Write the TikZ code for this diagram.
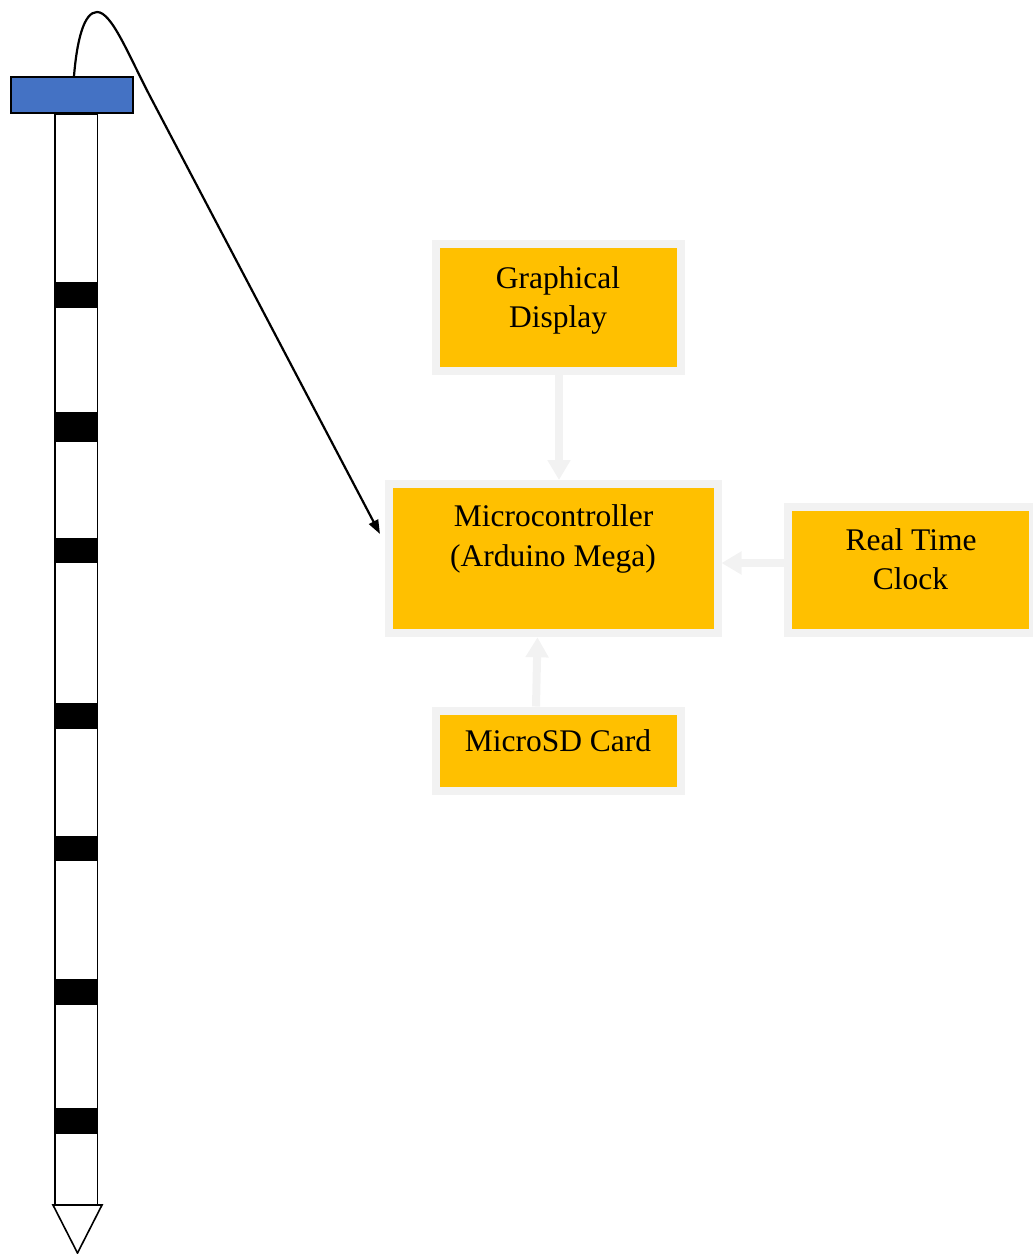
\documentclass[tikz,border=0pt]{standalone}
\usepackage{fontspec}
\setmainfont{Liberation Serif}
\usetikzlibrary{arrows.meta}
\definecolor{orng}{HTML}{FFC000}
\definecolor{lgray}{HTML}{F2F2F2}
\definecolor{blu}{HTML}{4472C4}
\begin{document}
\begin{tikzpicture}[x=1pt,y=-1pt,
  box/.style={draw=lgray, line width=8pt, fill=orng, rectangle, inner sep=0pt},
  lbl/.style={anchor=base, inner sep=0pt, font=\fontsize{31.5}{39}\selectfont},
  flow/.style={draw=lgray, line width=8pt, -{Triangle[length=20pt,width=22pt]}},
  band/.style={fill=black},
  pole/.style={draw=black, line width=1.6pt},
  link/.style={draw=black, line width=2.2pt, -{Triangle[length=14pt,width=10pt]}}]
\useasboundingbox (0,0) rectangle (1033,1254);
% pole with bands
\foreach \a/\b in {282/308, 412/442, 538.3/563.3, 703.3/729.3, 835.7/861, 979.3/1005, 1108.3/1134}
  \fill[band] (55,\a) rectangle (97.5,\b);
\draw[pole] (55,114) rectangle (97.5,1205);
\draw[pole, fill=white] (53,1205) -- (102,1205) -- (77.5,1253) -- cycle;
% blue cap
\node (cap) [draw=black, line width=2pt, fill=blu, rectangle, inner sep=0pt,
  minimum width=122pt, minimum height=36pt] at (72.35,95) {};
% boxes
\node (gd) [box, minimum width=245.5pt, minimum height=127pt] at (558.25,307.5) {};
\node (mc) [box, minimum width=328.5pt, minimum height=149.3pt] at (553.25,558.65) {};
\node (rtc) [box, minimum width=245pt, minimum height=126.3pt] at (910.5,570.15) {};
\node (sd) [box, minimum width=245.5pt, minimum height=80.5pt] at (558.25,750.75) {};
% labels
\node[lbl] at (558,288) {Graphical};
\node[lbl] at (558,327) {Display};
\node[lbl] at (553.5,526.7) {Microcontroller};
\node[lbl] at (553,566.7) {(Arduino Mega)};
\node[lbl] at (911,550) {Real Time};
\node[lbl] at (910.5,589) {Clock};
\node[lbl] at (558,751.7) {MicroSD Card};
% grey flow arrows
\draw[flow] ([xshift=0.75pt]gd.south) -- ([xshift=0.75pt]gd.south |- mc.north);
\draw[flow] (rtc.west |- {(0,563)}) -- (mc.east |- {(0,563)});
\draw[flow] ([xshift=-22.25pt]sd.north) -- ([xshift=-15.75pt]mc.south);
% sensor link
\coordinate (tipend) at (380,534);
\draw[link] ([xshift=1.65pt]cap.north) .. controls (77,40) and (84,12) .. (97,12)
  .. controls (112,12) and (128.3,55) .. (152,100) -- (tipend);
\end{tikzpicture}
\end{document}
